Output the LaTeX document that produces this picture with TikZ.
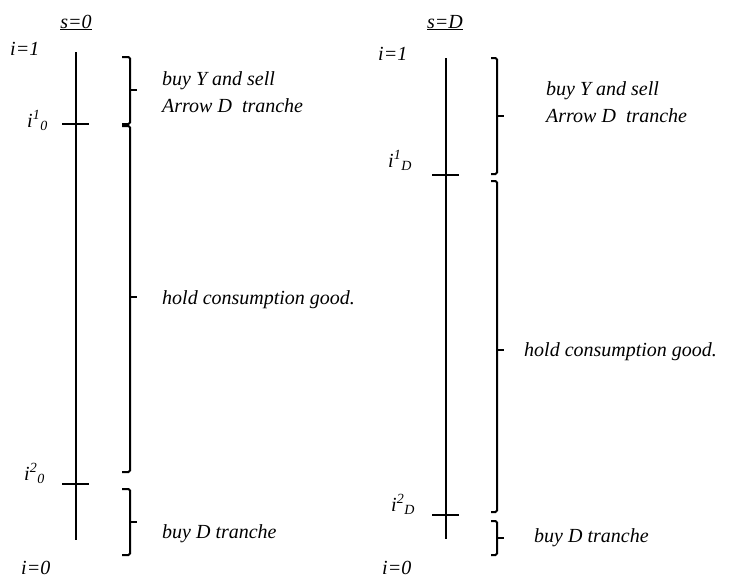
\documentclass[tikz,border=0pt]{standalone}
\usepackage{fontspec}
\setmainfont{Liberation Serif}
\usetikzlibrary{positioning}

\begin{document}
\begin{tikzpicture}[x=1pt, y=-1pt,
  axis/.style={line width=2pt},
  tick/.style={line width=2pt},
  brack/.style={line width=2pt, rounded corners=1.5pt},
  lab/.style={font=\fontsize{20}{27}\selectfont\itshape, inner sep=0pt},
  txt/.style={lab, align=left, anchor=west}
]
  \useasboundingbox (0,0) rectangle (743,579);

  % s = 0
  \coordinate (topA) at (76,52);
  \coordinate (botA) at (76,540);
  \coordinate (t1A) at (76,124);
  \coordinate (t2A) at (76,484);
  \node[lab, anchor=base] (hdA) at (76,28) {\underline{s=0}};
  \node[lab, anchor=base west] (oneA) at (10,55) {i=1};
  \node[lab, anchor=base west] (i1A) at (27,127) {i\textsuperscript{1}\textsubscript{0}};
  \node[lab, anchor=base west] (i2A) at (24,480) {i\textsuperscript{2}\textsubscript{0}};
  \node[lab, anchor=base west] (zeroA) at (21,574) {i=0};
  \draw[axis] (topA) -- (botA);
  \draw[tick] ([xshift=-14pt]t1A) -- ([xshift=13pt]t1A);
  \draw[tick] ([xshift=-14pt]t2A) -- ([xshift=13pt]t2A);
  \draw[brack] (122,57) -- (130,57) -- (130,124) -- (122,124);
  \draw[brack] (130,90) -- (137,90);
  \draw[brack] (122,126) -- (130,126) -- (130,472) -- (122,472);
  \draw[brack] (130,297) -- (137,297);
  \draw[brack] (122,489) -- (130,489) -- (130,555) -- (122,555);
  \draw[brack] (130,522) -- (137,522);
  \node[txt] (buyA) at (162,92) {buy Y and sell\\Arrow D~ tranche};
  \node[lab, anchor=base west] (holdA) at (162,304) {hold consumption good.};
  \node[lab, anchor=base west] (dA) at (162,538) {buy D tranche};

  % s = D
  \coordinate (topB) at (446,58);
  \coordinate (botB) at (446,539);
  \coordinate (t1B) at (446,175);
  \coordinate (t2B) at (446,515);
  \node[lab, anchor=base] (hdB) at (445,28) {\underline{s=D}};
  \node[lab, anchor=base west] (oneB) at (378,60) {i=1};
  \node[lab, anchor=base west] (i1B) at (388,167) {i\textsuperscript{1}\textsubscript{D}};
  \node[lab, anchor=base west] (i2B) at (391,511) {i\textsuperscript{2}\textsubscript{D}};
  \node[lab, anchor=base west] (zeroB) at (382,574) {i=0};
  \draw[axis] (topB) -- (botB);
  \draw[tick] ([xshift=-14pt]t1B) -- ([xshift=13pt]t1B);
  \draw[tick] ([xshift=-14pt]t2B) -- ([xshift=13pt]t2B);
  \draw[brack] (491,58) -- (497,58) -- (497,174) -- (491,174);
  \draw[brack] (497,116) -- (504,116);
  \draw[brack] (491,181) -- (497,181) -- (497,512) -- (491,512);
  \draw[brack] (497,350) -- (504,350);
  \draw[brack] (491,521) -- (497,521) -- (497,555) -- (491,555);
  \draw[brack] (497,538) -- (504,538);
  \node[txt] (buyB) at (546,102) {buy Y and sell\\Arrow D~ tranche};
  \node[lab, anchor=base west] (holdB) at (524,356) {hold consumption good.};
  \node[lab, anchor=base west] (dB) at (534,542) {buy D tranche};
\end{tikzpicture}
\end{document}
